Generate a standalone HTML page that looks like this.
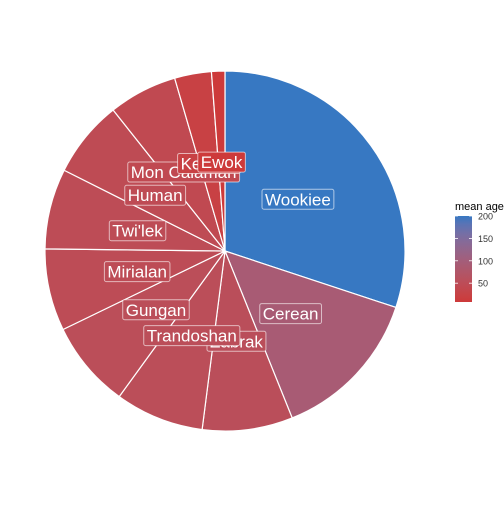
<!DOCTYPE html>
<html><head><meta charset="utf-8"><style>
body{margin:0;background:#fff;font-family:"Liberation Sans",sans-serif}
</style></head><body>
<svg id="c" width="504" height="504" xmlns="http://www.w3.org/2000/svg"></svg>
<script>
const species=["Wookiee","Cerean","Zabrak","Trandoshan","Gungan","Mirialan","Twi'lek","Human","Mon Calamari","Kel Dor","Ewok"];
const meanAge=[200,92,54,53,52,49,48,46,41,22,8];
const legendTicks=[50,100,150,200];
const svg=document.getElementById('c');const NS="http://www.w3.org/2000/svg";
function mk(t,a,p){const e=document.createElementNS(NS,t);for(const k in a)e.setAttribute(k,a[k]);(p||svg).appendChild(e);return e;}
function toLin(c){c/=255;return c<=0.04045?c/12.92:Math.pow((c+0.055)/1.055,2.4);}
function fromLin(c){c=c<=0.0031308?12.92*c:1.055*Math.pow(c,1/2.4)-0.055;return Math.max(0,Math.min(255,Math.round(c*255)));}
function rgb2lab(h){const r=toLin(parseInt(h.substr(1,2),16)),g=toLin(parseInt(h.substr(3,2),16)),b=toLin(parseInt(h.substr(5,2),16));
let x=(r*0.4124+g*0.3576+b*0.1805)/0.95047,y=r*0.2126+g*0.7152+b*0.0722,z=(r*0.0193+g*0.1192+b*0.9505)/1.08883;
const f=t=>t>0.008856?Math.cbrt(t):7.787*t+16/116;x=f(x);y=f(y);z=f(z);return[116*y-16,500*(x-y),200*(y-z)];}
function lab2rgb(l){let y=(l[0]+16)/116,x=l[1]/500+y,z=y-l[2]/200;const fi=t=>t*t*t>0.008856?t*t*t:(t-16/116)/7.787;
x=fi(x)*0.95047;y=fi(y);z=fi(z)*1.08883;const r=x*3.2406+y*-1.5372+z*-0.4986,g=x*-0.9689+y*1.8758+z*0.0415,b=x*0.0557+y*-0.2040+z*1.0570;
return "rgb("+fromLin(r)+","+fromLin(g)+","+fromLin(b)+")";}
const lo=rgb2lab("#CD3A3A"),hi=rgb2lab("#3778C2");
const vmin=Math.min(...meanAge),vmax=Math.max(...meanAge);
function col(v){const t=(v-vmin)/(vmax-vmin);return lab2rgb([0,1,2].map(i=>lo[i]+(hi[i]-lo[i])*t));}
const cx=225,cy=251,R=180,total=meanAge.reduce((a,b)=>a+b,0);
function pt(a,r){return[cx+r*Math.sin(a),cy-r*Math.cos(a)];}
let a0=0;const mids=[];
meanAge.forEach((v,i)=>{const a1=a0+v/total*2*Math.PI;const p0=pt(a0,R),p1=pt(a1,R);
const s=mk('path',{d:`M${cx},${cy}L${p0[0]},${p0[1]}A${R},${R} 0 ${a1-a0>Math.PI?1:0} 1 ${p1[0]},${p1[1]}Z`,fill:col(v),stroke:'#fff','stroke-width':1.2});


mids.push((a0+a1)/2);a0=a1;});
meanAge.forEach((v,i)=>{const p=pt(mids[i],R*0.5);
const g=mk('g',{});


const t=mk('text',{x:p[0],y:p[1]+7,'text-anchor':'middle','font-size':17,fill:'#fff'},g);t.textContent=species[i];
const w=t.getComputedTextLength();
const r=mk('rect',{x:p[0]-w/2-3,y:p[1]-9,width:w+6,height:20,rx:2,fill:col(v),stroke:'rgba(255,255,255,0.6)','stroke-width':1});
g.insertBefore(r,t);});
const lt=mk('text',{x:455,y:210,'font-size':11,fill:'#000'});lt.textContent='mean age';

const defs=mk('defs',{});const gr=mk('linearGradient',{id:'lg',x1:0,y1:1,x2:0,y2:0},defs);
for(let k=0;k<=10;k++){mk('stop',{offset:k/10,'stop-color':col(vmin+(vmax-vmin)*k/10)},gr);}
const by0=216,by1=302;const ly=v=>by1-(v-vmin)/(vmax-vmin)*(by1-by0);
const bar=mk('rect',{x:455,y:by0,width:17,height:by1-by0,fill:'url(#lg)'});

legendTicks.forEach(v=>{const y=ly(v);
mk('line',{x1:455,x2:458,y1:y,y2:y,stroke:'#fff','stroke-width':0.8});mk('line',{x1:469,x2:472,y1:y,y2:y,stroke:'#fff','stroke-width':0.8});
const tt=mk('text',{x:478,y:y+3.5,'font-size':9,fill:'#333'});tt.textContent=v;
});
</script>
</body></html>
